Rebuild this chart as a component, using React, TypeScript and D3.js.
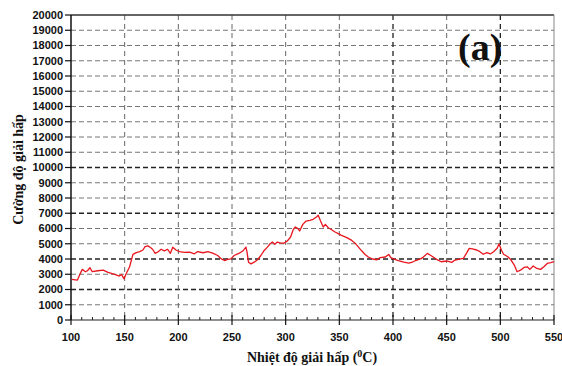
import React, { useEffect, useRef } from 'react';
import * as d3 from 'd3';

// temperature (°C) and signal values
const temps = [
  100.6, 106, 108, 110.5, 113.5, 115.4, 117.6, 119.8, 125, 130, 134.5, 140.7, 145, 147, 149.4, 151.5, 154.6, 157.7,
  160.8, 164, 167, 169, 171.6, 174, 176, 178.4, 180.9, 184, 187, 190, 192.6, 194.8, 197.8, 201, 205.6, 210.5,
  215, 218, 223, 227.5, 232, 236.7, 240, 243, 246, 249, 252, 256.8, 260, 263, 264, 265.4, 267.6, 270.7, 273.8,
  276.9, 280, 283, 285.5, 287.7, 289.8, 292.3, 295.4, 298.5, 301.5, 304.6, 307, 309, 311.4, 313, 316, 319,
  322.5, 325.6, 328.7, 330.3, 332.5, 335, 337, 339.7, 342.8, 346, 349, 352, 357, 361.6, 364.7, 367.8, 371, 374,
  377, 381, 385, 388, 392.8, 396, 398, 400.6, 405, 410, 414.7, 418, 421, 425.6, 428, 432, 436, 440.6, 445,
  450, 454.7, 457.8, 461, 465.6, 468.8, 471, 474, 478, 481, 484, 487.5, 490.6, 493.7, 497, 498.8, 501, 503, 507,
  510, 513, 515.6, 518.8, 522, 525, 527.5, 530.6, 534, 537.5, 540.6, 543.7, 547, 550,
];
const signal = [
  2660, 2620, 2950, 3320, 3165, 3230, 3430, 3165, 3230, 3270, 3120, 2990, 2880, 2990, 2700, 3050, 3490, 4300,
  4420, 4480, 4590, 4810, 4860, 4750, 4640, 4370, 4460, 4640, 4530, 4640, 4370, 4770, 4590, 4480, 4440, 4450,
  4340, 4490, 4410, 4490, 4380, 4230, 4010, 3900, 3970, 4010, 4230, 4380, 4520, 4780, 4450, 3790, 3680, 3790, 3950,
  4230, 4560, 4780, 5000, 5110, 4960, 5110, 5040, 5040, 5180, 5440, 5920, 6100, 5990, 5840, 6270, 6490,
  6540, 6600, 6760, 6870, 6490, 6100, 6270, 6050, 5920, 5770, 5660, 5550, 5400, 5220, 5040, 4780, 4520, 4300,
  4130, 4000, 3950, 4090, 4130, 4300, 4090, 4010, 3900, 3790, 3725, 3790, 3900, 4010, 4110, 4370, 4200, 3980, 3820,
  3870, 3780, 3930, 3980, 4040, 4420, 4700, 4660, 4590, 4480, 4310, 4420, 4330, 4480, 4700, 4990, 4590, 4310, 4150,
  3930, 3600, 3165, 3270, 3450, 3490, 3320, 3540, 3380, 3320, 3490, 3710, 3760, 3820,
];
const xTicks = [100, 150, 200, 250, 300, 350, 400, 450, 500, 550];
const yTicks = d3.range(0, 20001, 1000);
const darkYLines = [2000, 4000, 7000, 10000];
const darkXLines = [400, 500];

export default function App() {
  const ref = useRef<SVGSVGElement>(null);

  useEffect(() => {
    const svg = d3.select(ref.current);
    svg.selectAll('*').remove();

    const left = 71, right = 554, top = 15, bottom = 320;
    const x = d3.scaleLinear().domain([100, 550]).range([left, right]);
    const y = d3.scaleLinear().domain([0, 20000]).range([bottom, top]);

    const g = svg.append('g');

    // horizontal grid
    yTicks.filter(t => t > 0 && t < 20000).forEach(t => {
      const dark = darkYLines.includes(t);
      g.append('line')
        .attr('x1', left).attr('x2', right)
        .attr('y1', y(t)).attr('y2', y(t))
        .style('stroke', dark ? '#222' : '#777')
        .style('stroke-width', dark ? 1.6 : 1)
        .style('stroke-dasharray', '5,3');
    });

    // vertical grid
    xTicks.filter(t => t > 100 && t < 550).forEach(t => {
      const dark = darkXLines.includes(t);
      g.append('line')
        .attr('x1', x(t)).attr('x2', x(t))
        .attr('y1', top).attr('y2', bottom)
        .style('stroke', dark ? '#222' : '#666')
        .style('stroke-width', dark ? 1.3 : 1)
        .style('stroke-dasharray', '5,4');
    });

    // frame
    g.append('line').attr('x1', left).attr('x2', right).attr('y1', top).attr('y2', top)
      .style('stroke', '#333').style('stroke-width', 1.5);
    g.append('line').attr('x1', right).attr('x2', right).attr('y1', top).attr('y2', bottom)
      .style('stroke', '#888').style('stroke-width', 1);
    g.append('line').attr('x1', left).attr('x2', left).attr('y1', top).attr('y2', bottom)
      .style('stroke', '#111').style('stroke-width', 1.5);
    g.append('line').attr('x1', left).attr('x2', right).attr('y1', bottom).attr('y2', bottom)
      .style('stroke', '#222').style('stroke-width', 1.2);

    // y ticks + labels
    yTicks.forEach(t => {
      g.append('line').attr('x1', left - 6).attr('x2', left).attr('y1', y(t)).attr('y2', y(t))
        .style('stroke', '#111').style('stroke-width', 1.2);
      g.append('text')
        .attr('x', left - 8).attr('y', y(t))
        .attr('dy', '0.36em')
        .attr('text-anchor', 'end')
        .style('font-family', 'Liberation Sans, Arial, sans-serif')
        .style('font-size', '11px')
        .style('font-weight', 'bold')
        .style('fill', '#111')
        .text(t);
    });

    // x ticks
    d3.range(110, 550, 10).forEach(t => {
      if (t % 50 === 0) return;
      g.append('line').attr('x1', x(t)).attr('x2', x(t)).attr('y1', bottom - 3).attr('y2', bottom)
        .style('stroke', '#222').style('stroke-width', 1);
    });
    xTicks.forEach(t => {
      g.append('line').attr('x1', x(t)).attr('x2', x(t)).attr('y1', bottom - 5).attr('y2', bottom + 5)
        .style('stroke', '#111').style('stroke-width', 1.2);
      g.append('text')
        .attr('x', x(t)).attr('y', bottom + 21)
        .attr('text-anchor', 'middle')
        .style('font-family', 'Liberation Sans, Arial, sans-serif')
        .style('font-size', '11px')
        .style('font-weight', 'bold')
        .style('fill', '#111')
        .text(t);
    });

    // curve
    const pts = temps.map((t, i) => [t, signal[i]] as [number, number]);
    const line = d3.line<[number, number]>().x(d => x(d[0])).y(d => y(d[1]));
    g.append('path')
      .datum(pts)
      .attr('d', line)
      .style('fill', 'none')
      .style('stroke', '#e8161e')
      .style('stroke-width', 1.3)
      .style('stroke-linejoin', 'round');

    // panel label
    g.append('text')
      .attr('x', 458).attr('y', 60)
      .style('font-family', 'Liberation Serif, Times New Roman, serif')
      .style('font-size', '38px')
      .style('font-weight', 'bold')
      .style('fill', '#111')
      .text('(a)');

    // axis titles
    g.append('text')
      .attr('transform', `translate(23,${(top + bottom) / 2 + 2}) rotate(-90)`)
      .attr('text-anchor', 'middle')
      .style('font-family', 'Liberation Serif, Times New Roman, serif')
      .style('font-size', '14px')
      .style('font-weight', 'bold')
      .style('fill', '#111')
      .text('Cường độ giải hấp');

    const xt = g.append('text')
      .attr('x', 312).attr('y', 362)
      .attr('text-anchor', 'middle')
      .style('font-family', 'Liberation Serif, Times New Roman, serif')
      .style('font-size', '14px')
      .style('font-weight', 'bold')
      .style('fill', '#111');
    xt.append('tspan').text('Nhiệt độ giải hấp (');
    xt.append('tspan').attr('dy', -5).style('font-size', '10px').text('0');
    xt.append('tspan').attr('dy', 5).text('C)');
  }, []);

  return (
    <svg
      ref={ref}
      width={562}
      height={366}
      style={{ position: 'absolute', left: 0, top: 0, background: '#fff' }}
    />
  );
}
